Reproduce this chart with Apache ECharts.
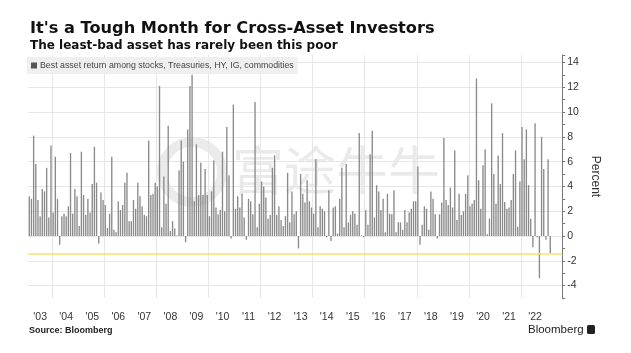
<!DOCTYPE html>
<html><head><meta charset="utf-8">
<script src="https://cdn.jsdelivr.net/npm/echarts@6/dist/echarts.min.js"></script>
<style>html,body{margin:0;padding:0;background:#fff}#c{width:631px;height:353px}</style>
</head><body><div id="c"></div>
<script>
// Best monthly return among stocks, Treasuries, HY, IG, commodities (%), Feb 2003 – Feb 2023
const seriesName = 'Best asset return among stocks, Treasuries, HY, IG, commodities';
const r2003 = [3.2, 3.0, 8.1, 5.8, 2.9, 1.6, 3.8, 3.6, 5.5, 1.5, 7.3]; // Feb–Dec
const r2004 = [1.9, 6.4, 3.0, -0.7, 1.6, 1.8, 1.6, 2.4, 6.7, 1.8, 3.8, 3.2];
const r2005 = [0.8, 6.8, 3.3, 1.7, 3.0, 1.9, 4.2, 7.2, 4.3, -0.6, 3.5, 2.9];
const r2006 = [2.5, 0.65, 1.8, 6.4, 0.5, 0.3, 2.8, 2.1, 2.5, 4.3, 5.1, 1.2];
const r2007 = [1.2, 2.9, 2.2, 4.3, 3.2, 2.4, 1.7, 1.6, 7.7, 3.3, 3.4, 4.3];
const r2008 = [4.0, 12.1, 0.7, 4.8, 2.6, 8.9, 0.4, 1.2, 0.6, 0.05, 5.3, 7.7];
const r2009 = [6.0, -0.5, 8.6, 12.1, 13.0, 2.8, 7.4, 3.3, 5.9, 3.3, 5.4, 3.3];
const r2010 = [1.6, 3.6, 6.1, 2.3, 1.75, 2.1, 6.8, 2.0, 8.8, 4.9, -0.2, 10.6];
const r2011 = [2.2, 3.2, 2.3, 3.4, 1.5, -0.3, 3.0, 2.8, 1.75, 10.8, 0.7, 2.6];
const r2012 = [4.4, 4.0, 3.1, 1.4, 1.7, 5.5, 6.5, 1.7, 2.4, 1.3, 0.8, 1.6];
const r2013 = [5.1, 1.1, 3.6, 1.75, 2.0, -1.0, 5.0, 3.4, 2.7, 4.5, 2.8, 2.3];
const r2014 = [1.8, 6.2, 0.7, 2.4, 2.2, 2.0, -0.1, 3.7, -0.4, 2.3, 2.4, 0.2];
const r2015 = [3.0, 5.5, 0.7, 5.8, 1.1, 1.7, 2.0, 1.8, 0.9, 8.3, 0.05, -0.1];
const r2016 = [2.1, 0.9, 6.6, 8.5, 1.5, 4.1, 3.6, 2.1, 3.0, 0.3, 3.4, 1.8];
const r2017 = [1.75, 3.7, 0.3, 1.1, 1.1, 0.5, 2.1, 1.1, 1.9, 2.2, 2.8, 2.8];
const r2018 = [5.6, -0.7, 0.9, 2.4, 2.2, 0.5, 3.6, 3.0, 1.75, -0.2, 1.75, 2.7];
const r2019 = [7.9, 2.9, 2.5, 3.9, 2.3, 6.9, 1.3, 3.4, 1.7, 2.0, 3.4, 4.9];
const r2020 = [2.4, 2.6, 2.9, 12.7, 4.5, 2.2, 5.7, 7.0, 0.15, 1.4, 10.7, 5.0];
const r2021 = [2.6, 6.5, 4.2, 8.3, 2.75, 2.2, 2.3, 2.9, 5.0, 6.9, 0.75, 4.4];
const r2022 = [8.8, 6.2, 8.6, 4.1, 1.4, -0.9, 9.1, -0.1, -3.4, 8.0, 5.4, -0.3];
const r2023 = [6.2, -1.4]; // Jan–Feb
const yearTickLabels = ["'03","'04","'05","'06","'07","'08","'09","'10","'11","'12","'13","'14","'15","'16","'17","'18","'19","'20","'21","'22"];
const yTickLabels = [-4, -2, 0, 2, 4, 6, 8, 10, 12, 14];

const values = [].concat(r2003, r2004, r2005, r2006, r2007, r2008, r2009, r2010, r2011, r2012,
  r2013, r2014, r2015, r2016, r2017, r2018, r2019, r2020, r2021, r2022, r2023);

// monthly categories Feb 2003 .. Jul 2023 (axis runs a few empty months past the last bar)
const categories = [];
for (let y = 2003; y <= 2023; y++) {
  for (let m = 1; m <= 12; m++) {
    if (y === 2003 && m < 2) continue;
    if (y === 2023 && m > 7) break;
    categories.push(y + '-' + String(m).padStart(2, '0'));
  }
}
const labelAt = {};
yearTickLabels.forEach(l => { labelAt['20' + l.slice(1) + '-07'] = l; });
const gridAt = (v) => v.endsWith('-01') && (+v.slice(0, 4)) % 2 === 0;

const chart = echarts.init(document.getElementById('c'), null, {renderer: 'canvas'});
const FONT = "'Liberation Sans', Arial, sans-serif";
const HEAD = "'DejaVu Sans', sans-serif";
chart.setOption({
  animation: false,
  backgroundColor: '#fff',
  title: [
    {text: "It's a Tough Month for Cross-Asset Investors", left: 30, top: 21, padding: 0,
     textStyle: {fontSize: 16.2, fontWeight: 'bold', color: '#111', fontFamily: HEAD}},
    {text: 'The least-bad asset has rarely been this poor', left: 30, top: 39.5, padding: 0,
     textStyle: {fontSize: 12, fontWeight: 'bold', color: '#111', fontFamily: HEAD}}
  ],
  legend: {
    left: 27, top: 57, icon: 'rect', itemWidth: 6, itemHeight: 6, itemGap: 0,
    backgroundColor: '#efefef', padding: [4, 4, 4, 4], selectedMode: false,
    textStyle: {fontSize: 8.8, color: '#444', fontFamily: FONT, padding: [0, 0, 0, -2]},
    data: [{name: seriesName, itemStyle: {color: '#555'}}]
  },
  grid: {left: 28.2, right: 68.8, top: 55, bottom: 55},
  xAxis: {
    type: 'category', data: categories, boundaryGap: true,
    axisLine: {show: false, onZero: false}, axisTick: {show: false},
    axisLabel: {interval: (i, v) => v in labelAt, formatter: v => labelAt[v] || '',
      color: '#333', fontSize: 10.5, margin: 14, fontFamily: FONT},
    splitLine: {show: true, interval: (i, v) => gridAt(v), lineStyle: {color: '#e6e6e6', width: 1}}
  },
  yAxis: {
    type: 'value', position: 'right', min: -5, max: 14.6, interval: 1,
    axisLine: {show: true, lineStyle: {color: '#777', width: 1}},
    axisTick: {show: true, length: 3, lineStyle: {color: '#777'}},
    axisLabel: {formatter: v => yTickLabels.includes(v) ? String(v) : '',
      color: '#333', fontSize: 10.5, margin: 5, fontFamily: FONT},
    splitLine: {show: true, lineStyle: {color: ['rgba(0,0,0,0)', '#e6e6e6'], width: 1}},
    name: 'Percent', nameLocation: 'middle', nameRotate: -90, nameGap: 22,
    nameTextStyle: {color: '#333', fontSize: 12, fontFamily: FONT}
  },
  series: [{
    type: 'bar', name: seriesName, data: values, barWidth: '62%',
    itemStyle: {color: '#8a8a8a'},
    markLine: {symbol: 'none', silent: true, label: {show: false},
      lineStyle: {color: '#f2e46a', width: 1.5, type: 'solid'},
      data: [{yAxis: values[values.length - 1]}]}
  }],
  graphic: [
    {type: 'circle', z: -1, silent: true, shape: {cx: 192, cy: 172, r: 30},
     style: {fill: 'rgba(0,0,0,0)', stroke: 'rgba(190,190,190,0.3)', lineWidth: 10}},
    {type: 'text', z: -1, silent: true, left: 232, top: 144,
     style: {text: '富途牛牛', fill: 'rgba(185,185,185,0.3)', font: "52px 'Noto Sans CJK SC'"}},
    {type: 'text', left: 29, top: 326,
     style: {text: 'Source: Bloomberg', fill: '#222', font: "bold 9px 'Liberation Sans', Arial, sans-serif"}},
    {type: 'text', left: 528, top: 324,
     style: {text: 'Bloomberg', fill: '#222', font: "11.5px 'Liberation Sans', Arial, sans-serif"}},
    {type: 'rect', left: 587, top: 325, shape: {width: 8, height: 9, r: 1.5}, style: {fill: '#222'}}
  ]
});
</script></body></html>
